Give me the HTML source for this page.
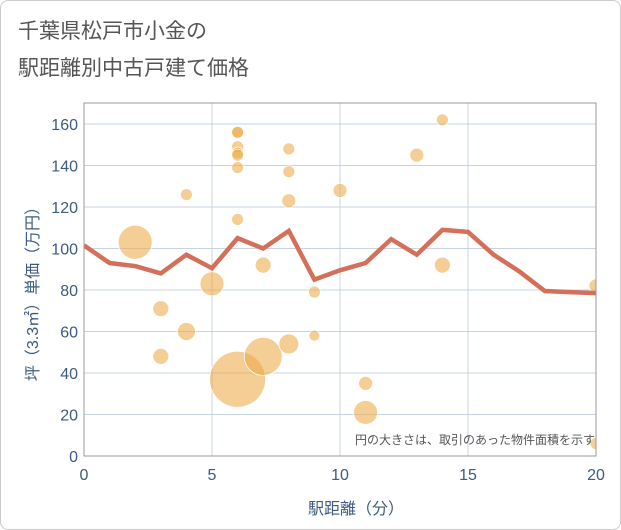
<!DOCTYPE html>
<html><head><meta charset="utf-8"><style>
body{margin:0;background:#fff;}
.card{position:absolute;left:0;top:0;width:619px;height:528px;border:1px solid #ccc;border-radius:8px;background:#fff;}
svg{position:absolute;left:0;top:0;font-family:"Liberation Sans","Noto Sans CJK JP",sans-serif;}
</style></head><body>
<div class="card"></div>
<svg width="621" height="530">
<defs><clipPath id="pc"><rect x="84" y="103" width="512" height="353"/></clipPath></defs>
<text x="18" y="38" font-size="21" fill="#555">千葉県松戸市小金の</text>
<text x="18" y="75" font-size="21" fill="#555">駅距離別中古戸建て価格</text>
<g id="grid"></g>
<g id="bubbles" clip-path="url(#pc)"></g>
<g id="line" clip-path="url(#pc)"></g>
<rect x="84" y="103" width="512" height="353" fill="none" stroke="#999" stroke-width="1"/>
<g id="axes"></g>
<text x="595" y="444" font-size="12" fill="#555" text-anchor="end">円の大きさは、取引のあった物件面積を示す</text>
<text x="356" y="514" font-size="16" fill="#3d5a80" text-anchor="middle">駅距離（分）</text>
<text transform="translate(38,290) rotate(-90)" font-size="16" fill="#3d5a80" text-anchor="middle">坪（3.3㎡）単価（万円）</text>
</svg>
<script>
const xTicks=[0,5,10,15,20];
const yTicks=[0,20,40,60,80,100,120,140,160];
const lineX=[0,1,2,3,4,5,6,7,8,9,10,11,12,13,14,15,16,17,18,19,20];
const lineY=[101.5,93,91.5,88,97,90.5,105,100,108.5,85,89.5,93,104.5,97,109,108,97,89,79.5,79,78.5];
const bubX=[2,3,3,4,4,5,6,6,6,6,6,6,6,6,7,7,8,8,8,8,9,9,10,11,11,13,14,14,20,20];
const bubY=[103,71,48,126,60,83,156,156,149,146,145,139,114,37,92,48,148,137,123,54,79,58,128,35,21,145,162,92,82,6];
const bubR=[17,8,8,6,9,12,6,6,6,6,6,6,6,28,8,19,6,6,7,10,6,5.5,7,7,12,7,6,8,7,6];
const NS="http://www.w3.org/2000/svg";
const sx=v=>84+v*25.6, sy=v=>456-v*2.075;
function mk(t,a,p){const e=document.createElementNS(NS,t);for(const k in a)e.setAttribute(k,a[k]);p.appendChild(e);return e;}
const grid=document.getElementById('grid'),axes=document.getElementById('axes');
yTicks.forEach(v=>{
 const l=mk('line',{x1:84,x2:596,y1:sy(v),y2:sy(v),stroke:'#c5d3e3','stroke-width':1},grid);
 
 
 const t=mk('text',{x:78,y:sy(v)+6,'font-size':16,fill:'#3d5a80','text-anchor':'end'},axes);t.textContent=v;
 
 
});
xTicks.forEach(v=>{
 const l=mk('line',{x1:sx(v),x2:sx(v),y1:103,y2:456,stroke:'#c5d3e3','stroke-width':1},grid);
 
 
 const t=mk('text',{x:sx(v),y:480,'font-size':16,fill:'#3d5a80','text-anchor':'middle'},axes);t.textContent=v;
 
 
});
const bg=document.getElementById('bubbles');
bubX.forEach((x,i)=>{
 const c=mk('circle',{cx:sx(x),cy:sy(bubY[i]),r:bubR[i],fill:'rgba(236,170,70,0.58)',stroke:'#fff','stroke-width':0.8},bg);
 
 
});
const p=mk('polyline',{points:lineX.map((x,i)=>sx(x)+','+sy(lineY[i])).join(' '),fill:'none',stroke:'#d4705a','stroke-width':4.5,'stroke-linejoin':'miter'},document.getElementById('line'));


</script>
</body></html>
